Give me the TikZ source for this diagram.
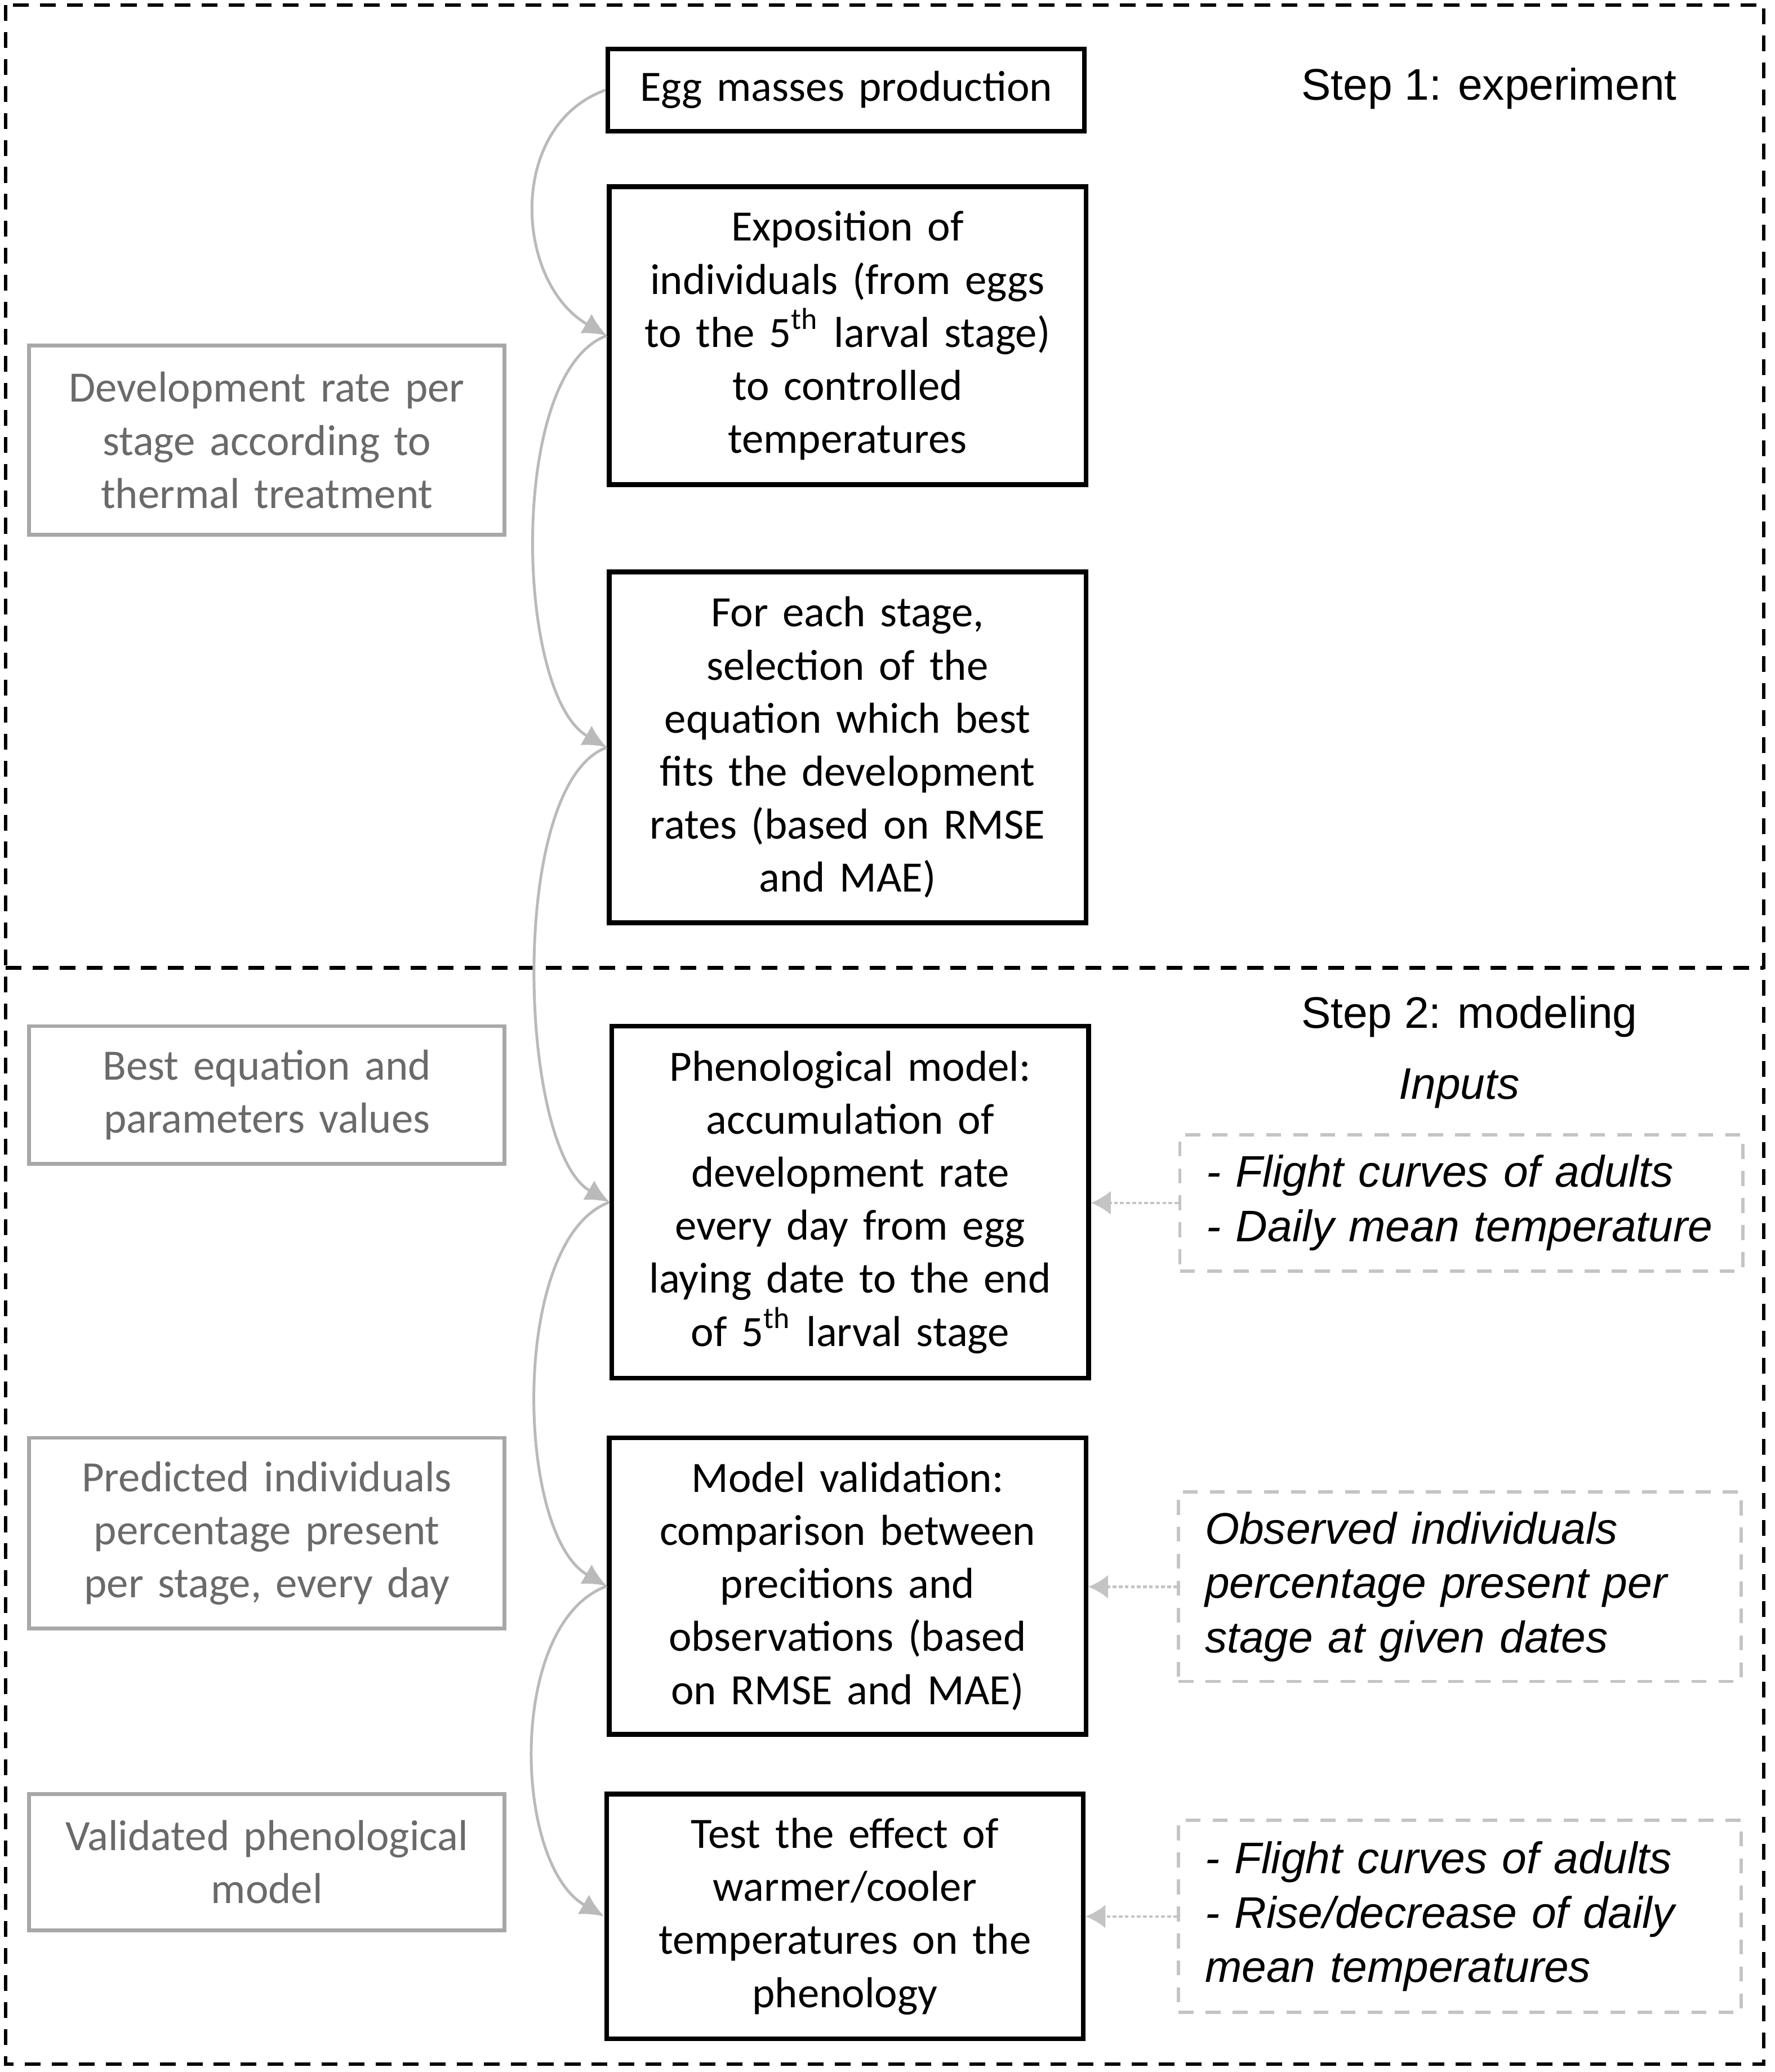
\documentclass[tikz,border=0pt]{standalone}
\usepackage{fontspec}
\setmainfont{Carlito}
\newfontfamily\arial{Liberation Sans}
\usetikzlibrary{arrows.meta}
\definecolor{framegray}{HTML}{A8A8A8}
\definecolor{labelgray}{HTML}{6A6A6A}
\definecolor{tipgray}{HTML}{BABABA}
\definecolor{dashgray}{HTML}{C4C4C4}
\begin{document}
\begin{tikzpicture}[
	every node/.style={font=\fontsize{9.3}{11.4}\selectfont},
	stage/.style={draw, line width=1pt, text width=3.4cm, inner xsep=0.1cm, align=center},
	result/.style={draw=framegray, line width=0.8pt, text=labelgray, text width=3.39cm, inner xsep=0.1cm, align=center},
	input/.style={draw=dashgray, line width=0.7pt, dash pattern=on 3.2pt off 2.6pt, text width=3.85cm, inner xsep=0.2cm, align=left, font=\arial\itshape\fontsize{9.5}{11.7}\selectfont},
	flow/.style={draw=tipgray, line width=0.6pt, -{Latex[length=1.8mm,width=1.7mm]}},
	feed/.style={draw=dashgray, line width=0.5pt, dash pattern=on 0.8pt off 0.5pt, -{Latex[length=1.5mm,width=1.8mm]}},
	frame/.style={line width=0.75pt, dash pattern=on 3.4pt off 2.4pt}
	]
	\useasboundingbox (0,0) rectangle (13.4,-15.65);
	
	% the two steps
	\draw[frame] (0.043,-0.038) rectangle (13.32,-15.59);
	\draw[frame] (0.043,-7.31) -- (13.32,-7.31);
	\node[font=\arial\fontsize{9.5}{11.4}\selectfont] (step1) at (11.245,-0.67) {Step 1: experiment};
	\node[font=\arial\fontsize{9.5}{11.4}\selectfont] (step2) at (11.095,-7.68) {Step 2: modeling};
	\node[font=\arial\itshape\fontsize{9.5}{11.4}\selectfont] (inputs) at (11.02,-8.22) {Inputs};
	
	% main chain
	\node[stage, minimum height=0.62cm] (egg) at (6.39,-0.68) {Egg masses production};
	\node[stage, minimum height=2.25cm] (expo) at (6.40,-2.535) {Exposition of\\ individuals (from eggs\\ to the 5\textsuperscript{th} larval stage)\\ to controlled\\ temperatures};
	\node[stage, minimum height=2.65cm] (select) at (6.40,-5.645) {For each stage,\\ selection of the\\ equation which best\\ fits the development\\ rates (based on RMSE\\ and MAE)};
	\node[stage, minimum height=2.66cm] (pheno) at (6.42,-9.08) {Phenological model:\\ accumulation of\\ development rate\\ every day from egg\\ laying date to the end\\ of 5\textsuperscript{th} larval stage};
	\node[stage, minimum height=2.24cm] (valid) at (6.40,-11.98) {Model validation:\\ comparison between\\ precitions and\\ observations (based\\ on RMSE and MAE)};
	\node[stage, minimum height=1.85cm] (test) at (6.38,-14.475) {Test the effect of\\ warmer/cooler\\ temperatures on the\\ phenology};
	
	% results
	\node[result, minimum height=1.43cm] (rate) at (2.015,-3.325) {Development rate per\\ stage according to\\ thermal treatment};
	\node[result, minimum height=1.04cm] (best) at (2.015,-8.27) {Best equation and\\ parameters values};
	\node[result, minimum height=1.44cm] (pred) at (2.015,-11.58) {Predicted individuals\\ percentage present\\ per stage, every day};
	\node[result, minimum height=1.03cm] (model) at (2.015,-14.065) {Validated phenological\\ model};
	
	% inputs
	\node[input, minimum height=1.03cm] (in1) at (11.035,-9.085) {- Flight curves of adults\\ - Daily mean temperature};
	\node[input, minimum height=1.43cm] (in2) at (11.025,-11.985) {Observed individuals\\ percentage present per\\ stage at given dates};
	\node[input, minimum height=1.45cm] (in3) at (11.025,-14.475) {- Flight curves of adults\\ - Rise/decrease of daily\\ mean temperatures};
	
	\foreach \a/\b in {egg/expo, expo/select, select/pheno, pheno/valid, valid/test}{
		\draw[flow] (\a.west) to[out=200, in=150, distance=0.8cm] (\b.west);
	}
	\foreach \a/\b in {in1/pheno, in2/valid, in3/test}{
		\draw[feed] (\a.west) -- (\a.west -| \b.east);
	}
\end{tikzpicture}
\end{document}
